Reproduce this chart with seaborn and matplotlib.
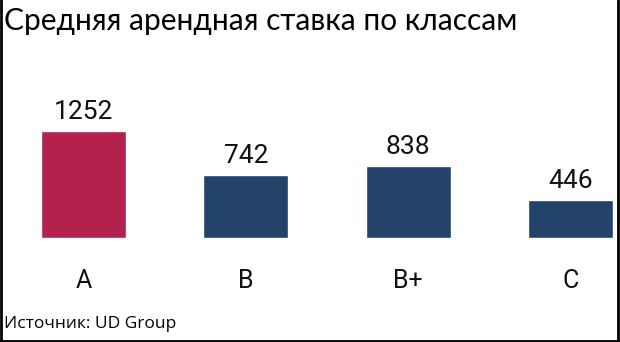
import matplotlib
matplotlib.use("Agg")
import matplotlib.pyplot as plt
import seaborn as sns
import pandas as pd
from matplotlib.lines import Line2D

categories = ["A", "B", "B+", "C"]
values = [1252, 742, 838, 446]
colors = ["#B2224C", "#24436A", "#24436A", "#24436A"]
title = "Средняя арендная ставка по классам"
source = "Источник: UD Group"

df = pd.DataFrame({"cls": categories, "val": values})

sns.set_theme(style="white")
plt.rcParams["font.family"] = ["Open Sans", "DejaVu Sans"]

W, H = 620, 342
fig = plt.figure(figsize=(W / 100, H / 100), dpi=100)
fig.patch.set_facecolor("white")

left_px, right_px = 41, 613
base_px, top_px = 238, 131
ax = fig.add_axes([left_px / W, (H - base_px) / H, (right_px - left_px) / W, (base_px - top_px) / H])
sns.barplot(data=df, x="cls", y="val", hue="cls", palette=dict(zip(categories, colors)),
            width=0.525, legend=False, ax=ax, saturation=1)
ax.set_xlim(-0.2625, 3.2625)
ax.set_ylim(0, 1252)
ax.set_xlabel("")
ax.set_ylabel("")
ax.set_yticks([])
for s in ax.spines.values():
    s.set_visible(False)
ax.tick_params(axis="x", length=0, pad=22, labelsize=18, labelcolor="#111111")
for lab in ax.get_xticklabels():
    lab.set_fontfamily(["Roboto", "DejaVu Sans"])
ax.set_facecolor("none")

for cont in ax.containers:
    labels = ax.bar_label(cont, fmt="%d", padding=5, fontsize=19, color="#111111")
    for t in labels:
        t.set_fontfamily(["Roboto", "DejaVu Sans"])
        t.set_clip_on(False)

fig.text(4 / W, 1 - 21 / H, title, fontsize=21.5, va="center", ha="left", color="#000000",
         family=["Lato", "Open Sans", "DejaVu Sans"])
fig.text(4 / W, 1 - 324 / H, source, fontsize=12.5, va="center", ha="left", color="#000000")

# frame lines (left, right, bottom)
lw = 2
fig.add_artist(Line2D([1 / W, 1 / W], [0, 1], color="black", lw=lw, transform=fig.transFigure))
fig.add_artist(Line2D([618 / W, 618 / W], [0, 1], color="black", lw=lw, transform=fig.transFigure))
fig.add_artist(Line2D([0, 618 / W], [1 - 340.5 / H, 1 - 340.5 / H], color="black", lw=lw, transform=fig.transFigure))

fig.savefig("out.png", dpi=100, facecolor="white")
